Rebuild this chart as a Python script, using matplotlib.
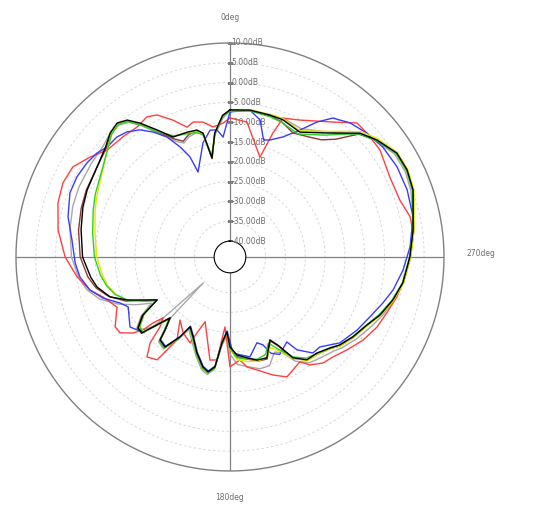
import numpy as np
import matplotlib
matplotlib.use("Agg")
import matplotlib.pyplot as plt

# radial scale (dB)
R_MIN = -40
R_MAX = 10
R_ORIGIN = -44
RING_STEP = 5

# traces: (angle in deg, level in dB)
black = [(0, -6.9), (3, -8.2), (7, -12.5), (10.3, -18.6), (12.3, -12.0), (14.6, -10.9), (19, -10.7),
         (25.4, -10.5), (29.9, -7.0), (33.9, -3.3), (36.9, -0.8), (40.1, 0.2), (44, -0.5), (48.9, -2.2),
         (55.9, -3.5), (64.9, -4.2), (71.2, -4.8), (79.6, -5.8), (90, -6.8), (98.3, -8.5), (102.7, -9.6),
         (108.4, -12.1), (112.7, -15.9), (117.4, -20.4), (120.5, -22.7), (123.7, -17.6), (127.7, -14.7),
         (130.8, -14.7), (132.3, -17.8), (135.5, -22.4), (138.3, -19.4), (139.9, -16.6), (144.2, -16.0),
         (148, -20.2), (150.3, -23.7), (155.2, -21.8), (161, -18.4), (166.2, -15.4), (169.2, -14.5),
         (172.2, -16.0), (174.7, -22.2), (177.7, -25.1), (180, -21.3), (184.1, -19.2), (189.6, -18.2),
         (194.7, -17.1), (200.1, -16.9), (205.7, -20.8), (208.7, -18.5), (212, -14.0), (216.8, -11.6),
         (222.2, -11.3), (227.7, -9.9), (231.3, -8.5), (237, -7.0), (243.6, -5.4), (248.9, -3.4),
         (255.2, -1.5), (261.5, 0.1), (270, 1.4), (278.4, 2.7), (285.3, 3.9), (290.1, 5.2), (296.2, 5.8),
         (301.9, 5.6), (308.5, 3.4), (313.6, 1.3), (318.4, -2.2), (322, -4.3), (330.8, -7.9),
         (338.9, -6.9), (344.3, -6.8), (352.3, -6.6), (360, -6.9)]

red = [(0, -8.9), (3, -10.2), (7.5, -10.9), (11.3, -9.3), (15.3, -8.7), (18.3, -9.5), (22.6, -6.6),
       (27.2, -3.7), (30.7, -2.9), (35.6, -3.7), (41.7, -3.4), (49, -2.9), (54.5, -0.6), (60.2, 1.7),
       (66.1, 2.1), (72.6, 1.5), (81.1, -0.1), (90, -2.4), (97.4, -5.1), (103.3, -7.7), (107.5, -10.4),
       (113.9, -12.8), (121.3, -10.1), (124.6, -10.3), (128.1, -12.9), (130, -15.4), (130.6, -18.4),
       (132.3, -21.2), (135, -19.0), (137.1, -14.4), (140.3, -11.2), (144.7, -12.2), (145.9, -15.7),
       (147.4, -19.2), (141.6, -23.7), (148.3, -21.5), (155.1, -20.1), (156.5, -23.1), (159, -26.5),
       (169, -17.5), (172.8, -17.8), (175.9, -26.3), (180, -16.3), (185.5, -17.9), (188.8, -15.9),
       (193.4, -14.7), (200, -12.3), (205.4, -10.5), (213.7, -12.2), (216.5, -10.1), (221.3, -8.4),
       (225.8, -7.8), (231.5, -6.3), (238, -4.4), (244.5, -2.9), (250.4, -2.0), (256.5, -0.7),
       (263.5, 0.4), (270, 1.4), (277.5, 2.6), (282.5, 2.6), (288.5, 1.2), (296.6, 1.1), (305.5, 2.5),
       (312.1, 2.6), (316.5, 2.6), (322.7, -1.2), (332.9, -5.2), (339.1, -6.5), (340.9, -10.9),
       (343.3, -17.7), (352.8, -9.7), (360, -8.9)]

blue = [(0, -7.4), (3.3, -13.7), (5.8, -11.8), (8.9, -11.6), (13.3, -14.4), (20.6, -21.1), (21.8, -16.8),
        (24.4, -13.5), (27.7, -9.8), (31.6, -7.0), (35.3, -4.7), (39.5, -3.1), (43.3, -2.4), (48.2, -2.4),
        (52, -1.4), (56.7, -0.8), (62.4, -0.4), (68.2, -0.5), (76.1, -1.9), (83.9, -3.9), (92.2, -4.9),
        (97.6, -5.8), (103.3, -7.7), (107.9, -10.3), (112.7, -13.9), (116.1, -15.4), (125, -13.2),
        (128.1, -14.2), (130.8, -15.0), (132.3, -18.0), (135.5, -22.2), (138.3, -19.6), (139.9, -16.8),
        (144.2, -16.2), (148, -20.4), (150.3, -23.9), (155.2, -22.0), (161, -18.6), (166.2, -15.6),
        (169.2, -14.7), (172.2, -16.2), (174.7, -22.4), (177.7, -25.3), (181.8, -19.8), (185.8, -19.2),
        (191.3, -18.3), (197.4, -21.3), (200.6, -20.3), (203, -17.6), (207, -16.4), (213.8, -18.2),
        (215.8, -15.1), (220.8, -12.0), (225, -11.9), (232, -8.8), (240.1, -7.0), (246.8, -5.6),
        (253.3, -3.7), (258.6, -2.0), (265.7, -0.2), (273.2, 1.5), (282.3, 3.3), (290.7, 3.8),
        (298.3, 3.9), (305.7, 3.5), (312.1, 2.6), (318.2, 1.4), (323.5, -0.4), (327.2, -3.5),
        (331.1, -7.4), (336.2, -10.9), (341.1, -12.8), (344, -13.3), (347.6, -8.6), (352.3, -6.6),
        (360, -7.4)]

green = [(0, -7.2), (3, -8.5), (7, -12.5), (10.3, -18.3), (12.3, -12.5), (15, -11.5), (20, -11.0),
         (25, -10.3), (30, -7.5), (34, -3.8), (37, -1.2), (40, -0.3), (44, -1.0), (49, -3.0), (56, -5.0),
         (65, -6.5), (71, -7.5), (80, -8.8), (90, -9.8), (98, -11.0), (103, -12.0), (108, -13.5),
         (113, -16.0), (117.5, -19.8), (120.5, -22.3), (123.7, -17.9), (127.7, -15.2), (130.8, -15.0),
         (132.3, -17.5), (135.5, -22.0), (138.3, -19.0), (140, -16.3), (144.2, -15.6), (148, -20.0),
         (150.3, -23.5), (155.2, -21.5), (161, -18.0), (166.2, -15.0), (169.2, -14.2), (172.2, -15.7),
         (174.7, -22.0), (177.7, -24.8), (180, -21.0), (184, -18.5), (190, -17.8), (195, -17.3),
         (200, -17.8), (204, -20.2), (208, -17.5), (212, -14.3), (217, -12.0), (222, -11.2), (228, -9.7),
         (231, -8.6), (237, -7.1), (243.6, -5.5), (249, -3.6), (255, -1.7), (261.5, 0.0), (270, 1.3),
         (278, 2.6), (285, 3.8), (290, 5.0), (296, 5.6), (302, 5.4), (308.5, 3.2), (313.6, 1.0),
         (318.4, -2.6), (322, -5.0), (331, -8.5), (339, -7.6), (344, -7.2), (352, -6.8), (360, -7.2)]

yellow = [(0, -7.0), (3, -8.4), (7, -12.5), (10.3, -18.4), (12.3, -12.3), (15, -11.3), (20, -10.8),
          (25, -10.4), (30, -7.3), (34, -3.6), (37, -1.0), (40, -0.1), (44, -0.8), (49, -3.0), (56, -5.2),
          (65, -7.0), (71, -8.0), (80, -9.4), (90, -10.4), (98, -11.5), (103, -12.3), (108, -13.6),
          (113, -16.0), (117.5, -19.8), (120.5, -22.2), (123.7, -18.0), (127.7, -15.3), (130.8, -15.1),
          (132.3, -17.7), (135.5, -22.1), (138.3, -19.1), (140, -16.4), (144.2, -15.7), (148, -19.9),
          (150.3, -23.4), (155.2, -21.4), (161, -18.0), (166.2, -15.1), (169.2, -14.3), (172.2, -15.8),
          (174.7, -22.0), (177.7, -24.9), (180, -20.8), (184, -18.0), (190, -17.2), (195, -16.8),
          (200, -17.0), (204, -19.0), (208, -17.0), (212, -13.8), (217, -11.3), (222, -11.0), (228, -9.6),
          (231, -8.3), (237, -6.8), (243.6, -5.2), (249, -3.2), (255, -1.3), (261.5, 0.3), (270, 1.6),
          (278, 2.9), (285, 4.1), (290, 5.4), (296, 6.0), (302, 5.8), (308.5, 3.8), (313.6, 1.8),
          (318.4, -1.6), (322, -3.8), (331, -7.6), (339, -6.6), (344, -6.6), (352, -6.5), (360, -7.0)]

gray = [(0, -7.0), (3, -9.0), (7, -13.0), (10.3, -18.0), (12.3, -12.0), (15, -11.5), (19, -12.0),
        (22, -13.0), (25, -11.8), (30, -8.0), (34, -4.0), (37, -1.5), (40, -0.5), (44, -0.5), (49, -1.5),
        (56, -1.8), (65, -2.0), (72, -2.3), (80, -3.0), (90, -4.0), (98, -5.5), (103, -7.0), (108, -9.5),
        (113, -13.5), (117, -17.5), (120.5, -21.0), (123.7, -17.0), (127.7, -14.2), (130.5, -16.0),
        (132.3, -18.0), (134.2, -34.6), (135.8, -22.0), (138.3, -19.0), (140, -16.0), (144, -15.4),
        (148, -19.5), (150.3, -23.0), (155, -21.0), (161, -17.6), (166, -14.6), (169, -13.8),
        (172, -15.3), (174.7, -21.5), (177.7, -24.0), (180, -19.5), (184, -16.8), (190, -15.8),
        (195, -14.8), (200, -14.8), (205, -17.5), (208.7, -16.5), (212, -13.0), (217, -10.6),
        (222, -9.8), (228, -8.6), (231, -7.6), (237, -6.0), (244, -4.2), (249, -2.8), (255, -1.2),
        (261.5, 0.3), (270, 1.6), (278, 2.8), (285, 3.6), (290, 4.6), (296, 5.2), (302, 5.0),
        (308.5, 3.0), (313.6, 1.0), (318, -2.0), (322, -4.0), (331, -7.0), (339, -6.5), (344, -7.0),
        (352, -6.8), (360, -7.0)]

brown = [(0, -6.8), (3, -8.5), (7, -12.5), (10.3, -18.8), (12.3, -12.5), (15, -11.0), (19, -11.5),
         (22, -12.5), (25.4, -11.0), (30, -7.5), (34, -3.5), (37, -1.0), (40, -0.2), (44, -0.8),
         (49, -2.5), (56, -3.5), (65, -4.0), (72, -4.5), (80, -5.2), (90, -6.2), (98, -7.8), (103, -9.3),
         (108, -11.8), (113, -15.5), (117, -20.0), (120.5, -22.5), (123.7, -17.3), (127.7, -14.5),
         (130.8, -14.5), (132.3, -17.6), (135.5, -22.6), (138.3, -19.2), (139.9, -16.4), (144.2, -15.8),
         (148, -20.0), (150.3, -23.5), (155.2, -21.6), (161, -18.2), (166.2, -15.2), (169.2, -14.3),
         (172.2, -15.8), (174.7, -22.0), (177.7, -25.0), (180, -21.0), (184, -18.8), (190, -17.8),
         (195, -16.8), (200, -16.6), (205.7, -20.5), (208.7, -18.2), (212, -13.8), (217, -11.4),
         (222, -11.0), (228, -9.6), (231, -8.3), (237, -6.8), (243.6, -5.3), (249, -3.3), (255, -1.4),
         (261.5, 0.2), (270, 1.5), (278, 2.8), (285, 3.9), (290, 5.1), (296, 5.7), (302, 5.5),
         (308.5, 3.3), (313.6, 1.0), (318, -4.0), (322, -6.5), (326, -7.6), (333, -8.9), (339, -7.5),
         (344, -7.0), (352, -6.7), (360, -6.8)]

# draw order: last one on top
traces = [
    (gray, "#a8a8a8"),
    (red, "#ff4040"),
    (blue, "#3b3bff"),
    (brown, "#8a3b3b"),
    (yellow, "#e6e600"),
    (green, "#2ecc2e"),
    (black, "#000000"),
]

angle_labels = ["0deg", "270deg", "180deg"]

AXIS_COLOR = "#808080"
TEXT_COLOR = "#6e6e6e"


def main():
    fig = plt.figure(figsize=(5.51, 5.12), dpi=100)
    ax = fig.add_axes([0.029, 0.0801, 0.7768, 0.836], projection="polar")
    ax.set_theta_zero_location("N")
    ax.set_theta_direction(1)
    ax.set_ylim(R_MIN, R_MAX)
    ax.set_rorigin(R_ORIGIN)
    ax.grid(False)
    ax.set_xticks([])
    ax.set_yticks([])
    for sp in ax.spines.values():
        sp.set_visible(False)

    circ = np.linspace(0, 2 * np.pi, 721)
    # dotted rings
    for r in range(R_MIN + RING_STEP, R_MAX, RING_STEP):
        ax.plot(circ, np.full_like(circ, r), color="#d8d8d8", lw=0.7,
                ls=(0, (2.5, 2.5)), zorder=1)
    ax.plot(circ, np.full_like(circ, R_MAX), color=AXIS_COLOR, lw=1.0,
            clip_on=False, zorder=2)
    ax.plot(circ, np.full_like(circ, R_MIN - 0.4), color=AXIS_COLOR, lw=0.9, zorder=2)

    # cross lines
    for th in [0, 0.5 * np.pi, np.pi, 1.5 * np.pi]:
        ax.plot([th, th], [R_MIN - 0.4, R_MAX], color=AXIS_COLOR, lw=0.9, zorder=2)

    # radial labels along the 0deg line
    for r in range(R_MAX, R_MIN - 1, -RING_STEP):
        ax.plot(0, r, marker="_", ms=5, mew=0.8, color=AXIS_COLOR, zorder=2)
        ax.annotate("%.2fdB" % r, (0, r), xytext=(1, 0), textcoords="offset points",
                    ha="left", va="center", fontsize=5.5, color=TEXT_COLOR, zorder=3)

    for data, col in traces:
        arr = np.array(data)
        ax.plot(np.deg2rad(arr[:, 0]), arr[:, 1], color=col, lw=1.0, zorder=4,
                solid_joinstyle="round", solid_capstyle="round")

    fig.text(230 / 551, 1 - 17 / 512, angle_labels[0], ha="center", va="center",
             fontsize=5.5, color=TEXT_COLOR)
    fig.text(481 / 551, 1 - 253 / 512, angle_labels[1], ha="center", va="center",
             fontsize=5.5, color=TEXT_COLOR)
    fig.text(230 / 551, 1 - 498 / 512, angle_labels[2], ha="center", va="center",
             fontsize=5.5, color=TEXT_COLOR)

    fig.savefig("out.png", dpi=100)


if __name__ == "__main__":
    main()
